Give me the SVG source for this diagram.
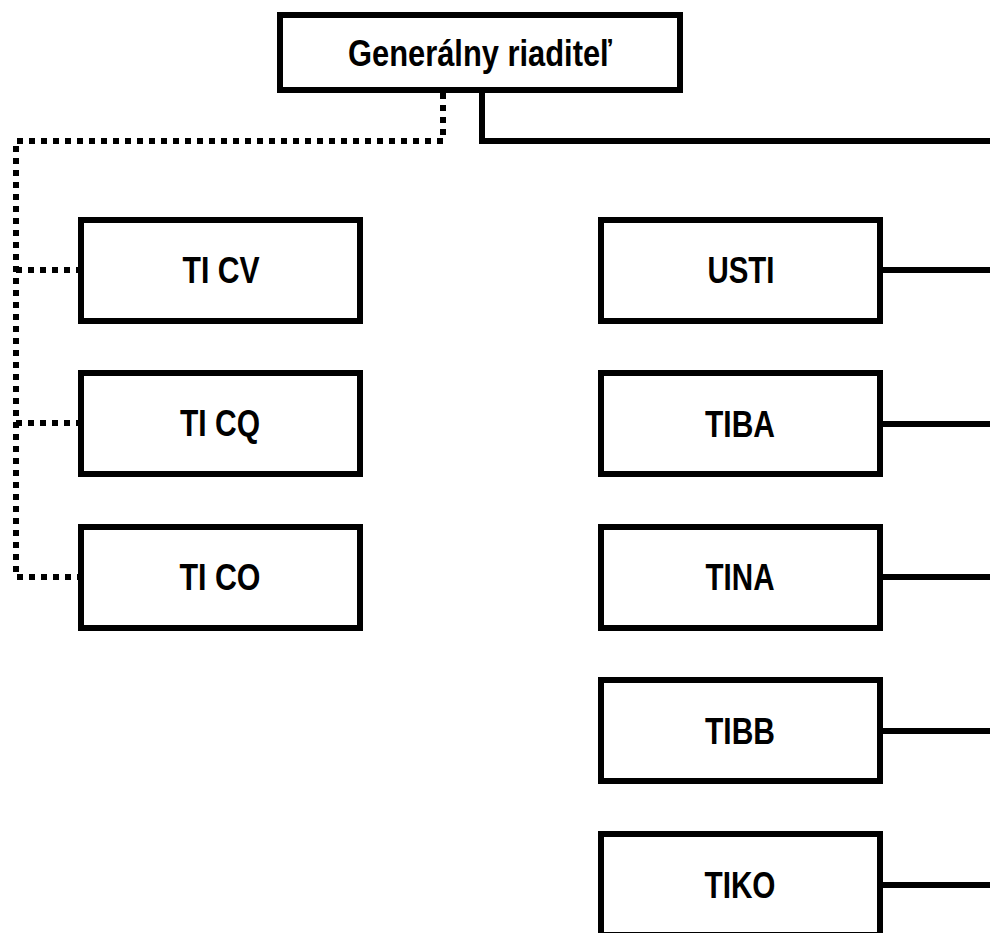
<svg xmlns="http://www.w3.org/2000/svg" width="990" height="933" viewBox="0 0 990 933">
<style>
.box{fill:#fff;stroke:#000;stroke-width:6}
.lbl{font-family:"Liberation Sans Narrow","Arial Narrow","Liberation Sans",sans-serif;font-weight:bold;font-size:37px;fill:#000;text-anchor:middle;dominant-baseline:central}
.solid{fill:none;stroke:#000;stroke-width:6}
.dot{fill:none;stroke:#000;stroke-width:6;stroke-dasharray:6 6}
</style>
<g id="connectors">
<path class="dot" d="M443,93 V141 H16 V577 H78"/>
<path class="dot" d="M16,270 H78"/>
<path class="dot" d="M16,423 H78"/>
<path class="solid" d="M482,93 V141 H990"/>
<path class="solid" d="M883,270 H990"/>
<path class="solid" d="M883,424 H990"/>
<path class="solid" d="M883,577 H990"/>
<path class="solid" d="M883,731 H990"/>
<path class="solid" d="M883,885 H990"/>
</g>
<g id="gr"><rect class="box" x="280" y="15" width="400" height="75"/><text class="lbl" x="480" y="53" textLength="264" lengthAdjust="spacingAndGlyphs">Generálny riaditeľ</text></g>
<g id="ticv"><rect class="box" x="81" y="220" width="279" height="101"/><text class="lbl" x="221" y="270" textLength="77" lengthAdjust="spacingAndGlyphs">TI CV</text></g>
<g id="ticq"><rect class="box" x="81" y="373" width="279" height="101"/><text class="lbl" x="220" y="423" textLength="80" lengthAdjust="spacingAndGlyphs">TI CQ</text></g>
<g id="tico"><rect class="box" x="81" y="527" width="279" height="101"/><text class="lbl" x="220" y="577" textLength="81" lengthAdjust="spacingAndGlyphs">TI CO</text></g>
<g id="usti"><rect class="box" x="601" y="220" width="279" height="101"/><text class="lbl" x="741" y="270" textLength="67" lengthAdjust="spacingAndGlyphs">USTI</text></g>
<g id="tiba"><rect class="box" x="601" y="373" width="279" height="101"/><text class="lbl" x="740" y="424" textLength="70" lengthAdjust="spacingAndGlyphs">TIBA</text></g>
<g id="tina"><rect class="box" x="601" y="527" width="279" height="101"/><text class="lbl" x="740" y="577" textLength="69" lengthAdjust="spacingAndGlyphs">TINA</text></g>
<g id="tibb"><rect class="box" x="601" y="680" width="279" height="101"/><text class="lbl" x="740" y="731" textLength="70" lengthAdjust="spacingAndGlyphs">TIBB</text></g>
<g id="tiko"><rect class="box" x="601" y="834" width="279" height="101"/><text class="lbl" x="740" y="885" textLength="71" lengthAdjust="spacingAndGlyphs">TIKO</text></g>
</svg>
